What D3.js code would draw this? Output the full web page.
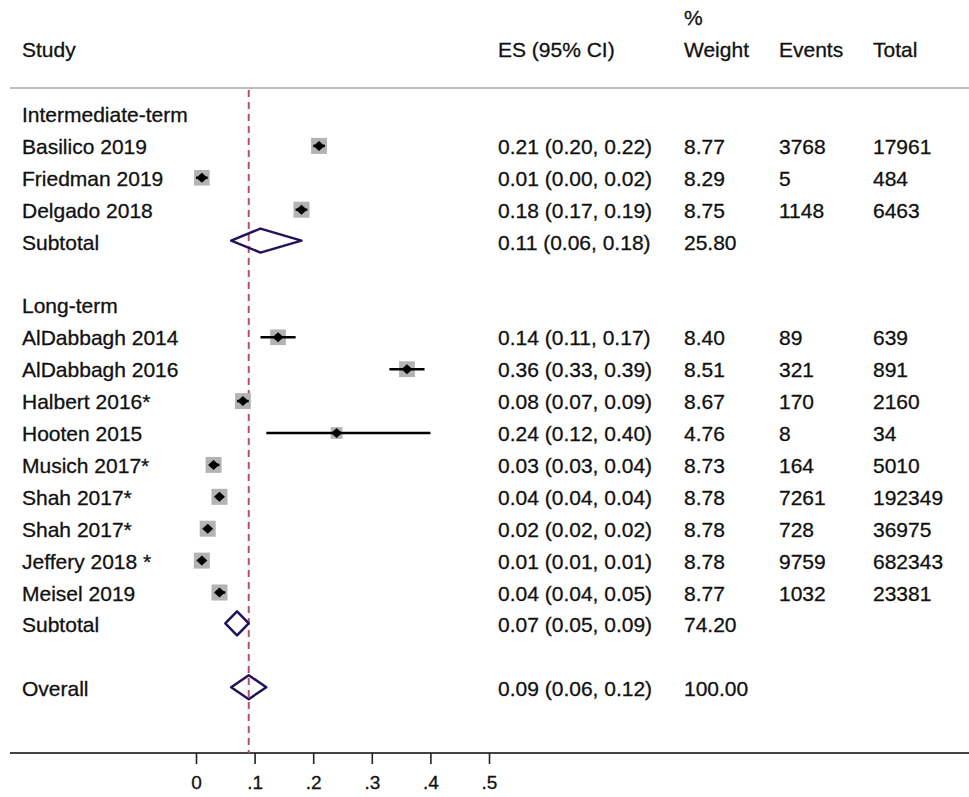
<!DOCTYPE html>
<html>
<head>
<meta charset="utf-8">
<script src="https://cdn.jsdelivr.net/npm/d3@7"></script>
<style>
  html, body { margin: 0; padding: 0; background: #fff; }
  svg { display: block; }
  text { font-family: "Liberation Sans", Arial, Helvetica, sans-serif; fill: #111; stroke: #111; stroke-width: 0.3px; }
</style>
</head>
<body>
<svg id="chart" width="969" height="797"></svg>
<script>
// Study-level data, grouped by follow-up term
const groupNames = ["Intermediate-term", "Long-term"];
const studyNames = [
  "Basilico 2019", "Friedman 2019", "Delgado 2018",
  "AlDabbagh 2014", "AlDabbagh 2016", "Halbert 2016*", "Hooten 2015",
  "Musich 2017*", "Shah 2017*", "Shah 2017*", "Jeffery 2018 *", "Meisel 2019"
];
const studyGroup = [0, 0, 0, 1, 1, 1, 1, 1, 1, 1, 1, 1];
const studyES    = [0.21, 0.01, 0.18, 0.14, 0.36, 0.08, 0.24, 0.03, 0.04, 0.02, 0.01, 0.04];
const studyLow   = [0.20, 0.00, 0.17, 0.11, 0.33, 0.07, 0.12, 0.03, 0.04, 0.02, 0.01, 0.04];
const studyHigh  = [0.22, 0.02, 0.19, 0.17, 0.39, 0.09, 0.40, 0.04, 0.04, 0.02, 0.01, 0.05];
const studyWeight = ["8.77", "8.29", "8.75", "8.40", "8.51", "8.67", "4.76", "8.73", "8.78", "8.78", "8.78", "8.77"];
const studyEvents = ["3768", "5", "1148", "89", "321", "170", "8", "164", "7261", "728", "9759", "1032"];
const studyTotal  = ["17961", "484", "6463", "639", "891", "2160", "34", "5010", "192349", "36975", "682343", "23381"];

// Pooled estimates per group
const subtotalES     = [0.11, 0.07];
const subtotalLow    = [0.06, 0.05];
const subtotalHigh   = [0.18, 0.09];
const subtotalWeight = ["25.80", "74.20"];

// Overall pooled estimate
const overallES = 0.09, overallLow = 0.06, overallHigh = 0.12, overallWeight = "100.00";

const axisTicks = [0, 0.1, 0.2, 0.3, 0.4, 0.5];
const headers = { study: "Study", es: "ES (95% CI)", pct: "%", weight: "Weight", events: "Events", total: "Total" };

// Build row list: group header, studies, subtotal, blank spacer ... overall
const rows = [];
groupNames.forEach((g, gi) => {
  rows.push({ kind: "group", label: g });
  studyNames.forEach((s, i) => {
    if (studyGroup[i] !== gi) return;
    rows.push({ kind: "study", label: s, es: studyES[i], lo: studyLow[i], hi: studyHigh[i],
                w: studyWeight[i], ev: studyEvents[i], n: studyTotal[i] });
  });
  rows.push({ kind: "pooled", label: "Subtotal", es: subtotalES[gi], lo: subtotalLow[gi], hi: subtotalHigh[gi], w: subtotalWeight[gi] });
  rows.push({ kind: "blank" });
});
rows.push({ kind: "pooled", label: "Overall", es: overallES, lo: overallLow, hi: overallHigh, w: overallWeight });

const fmt2 = d3.format(".2f");
const esText = r => `${fmt2(r.es)} (${fmt2(r.lo)}, ${fmt2(r.hi)})`;

const svg = d3.select("#chart");
const W = 969;
const fontSize = 21;

const x = d3.scaleLinear().domain([0, 0.5]).range([196, 489]);
const rowBase = d3.scaleLinear().domain([0, 1]).range([122, 153.9]); // text baseline per row index
const markY = i => rowBase(i) - 8;
const boxSide = d3.scaleSqrt().domain([0, 8.78]).range([0, 16]);

const col = { study: 22, es: 498, weight: 684, events: 779, total: 873 };

// Header
const hdr = svg.append("g").style("font-size", fontSize + "px");
hdr.append("text").attr("x", col.study).attr("y", 57).text(headers.study);
hdr.append("text").attr("x", col.es).attr("y", 57).text(headers.es);
hdr.append("text").attr("x", col.weight).attr("y", 25).text(headers.pct);
hdr.append("text").attr("x", col.weight).attr("y", 57).text(headers.weight);
hdr.append("text").attr("x", col.events).attr("y", 57).text(headers.events);
hdr.append("text").attr("x", col.total).attr("y", 57).text(headers.total);

svg.append("line").attr("x1", 10).attr("x2", W).attr("y1", 88).attr("y2", 88)
  .attr("stroke", "#bdbdbd").attr("stroke-width", 2);

// Axis baseline
const axisY = 753;
svg.append("line").attr("x1", 10).attr("x2", W).attr("y1", axisY).attr("y2", axisY)
  .attr("stroke", "#444").attr("stroke-width", 2);

// Reference line at the overall estimate
svg.append("line")
  .attr("x1", x(overallES)).attr("x2", x(overallES))
  .attr("y1", 90).attr("y2", axisY)
  .attr("stroke", "#b5506c").attr("stroke-width", 2).attr("stroke-dasharray", "7,5");

// Row labels and columns
const body = svg.append("g").style("font-size", fontSize + "px");
rows.forEach((r, i) => {
  if (r.kind === "blank") return;
  const y = rowBase(i);
  body.append("text").attr("x", col.study).attr("y", y).text(r.label);
  if (r.kind === "group") return;
  body.append("text").attr("x", col.es).attr("y", y).text(esText(r));
  body.append("text").attr("x", col.weight).attr("y", y).text(r.w);
  if (r.kind === "study") {
    body.append("text").attr("x", col.events).attr("y", y).text(r.ev);
    body.append("text").attr("x", col.total).attr("y", y).text(r.n);
  }
});

// Study markers: weighted grey box, CI line, black point
const marks = svg.append("g");
rows.forEach((r, i) => {
  if (r.kind !== "study") return;
  const cy = markY(i), cx = x(r.es);
  const s = boxSide(+r.w);
  marks.append("rect").attr("x", cx - s / 2).attr("y", cy - s / 2)
    .attr("width", s).attr("height", s).attr("fill", "#b3b3b3");
  marks.append("line").attr("x1", x(r.lo)).attr("x2", x(r.hi)).attr("y1", cy).attr("y2", cy)
    .attr("stroke", "#000").attr("stroke-width", 2.5);
  marks.append("path")
    .attr("d", `M${cx - 5.5},${cy} L${cx},${cy - 5} L${cx + 5.5},${cy} L${cx},${cy + 5} Z`)
    .attr("fill", "#000");
});

// Pooled estimates as hollow diamonds
rows.forEach((r, i) => {
  if (r.kind !== "pooled") return;
  const cy = markY(i) - 1, h = 12;
  marks.append("path")
    .attr("d", `M${x(r.lo)},${cy} L${x(r.es)},${cy - h} L${x(r.hi)},${cy} L${x(r.es)},${cy + h} Z`)
    .attr("fill", "none").attr("stroke", "#23115e").attr("stroke-width", 2.5)
    .attr("stroke-linejoin", "round");
});

// X axis ticks and labels
const axis = d3.axisBottom(x)
  .tickValues(axisTicks)
  .tickSize(11)
  .tickPadding(12)
  .tickFormat(d => d === 0 ? "0" : d3.format(".1f")(d).replace(/^0/, ""));
const gx = svg.append("g").attr("transform", `translate(0,${axisY})`).call(axis);
gx.select(".domain").remove();
gx.selectAll(".tick line").attr("stroke", "#222").attr("stroke-width", 1.6);
gx.selectAll(".tick text")
  .style("font-family", "'Liberation Sans', Arial, Helvetica, sans-serif")
  .style("font-size", "19px").attr("fill", "#111");
</script>
</body>
</html>
